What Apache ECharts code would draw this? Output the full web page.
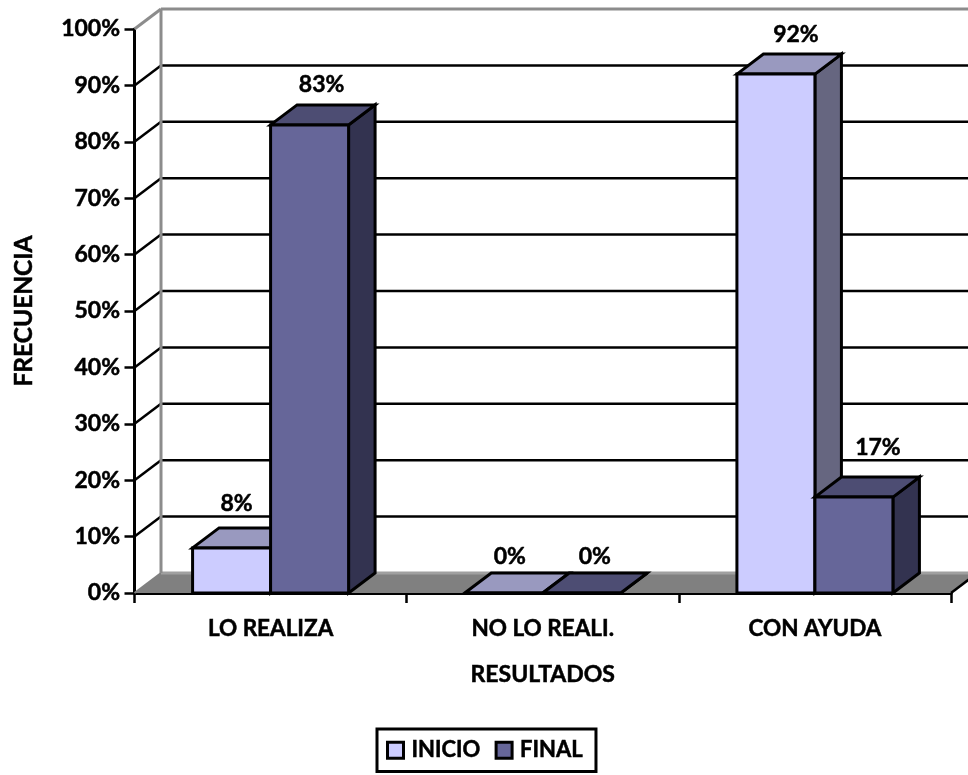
<!DOCTYPE html>
<html>
<head>
<meta charset="utf-8">
<style>html,body{margin:0;padding:0;background:#fff}#chart{width:968px;height:775px}</style>
<script src="https://cdn.jsdelivr.net/npm/echarts@6/dist/echarts.min.js"></script>
</head>
<body>
<div id="chart"></div>
<script>
// Resultados por categoría, en porcentaje
const categories = ['LO REALIZA', 'NO LO REALI.', 'CON AYUDA'];
const inicio = [8, 0, 92];
const final = [83, 0, 17];
const yTicks = [0, 10, 20, 30, 40, 50, 60, 70, 80, 90, 100];

// Desplazamiento de la profundidad oblicua y geometría de las columnas
const DEPTH_X = 26.5, DEPTH_Y = -20, BAR_W = 78;
const FONT = 'Lato';
const faces = {
  inicio: { front: '#CCCCFF', top: '#9999BF', side: '#666680' },
  final: { front: '#666699', top: '#4D4D73', side: '#333350' }
};
// Ajuste fino de cada rótulo respecto a la cara frontal (dx) y a la arista trasera (dy)
const inicioLabelShift = [[5, -24], [6, -16], [20, -20]];
const finalLabelShift = [[12, -20], [13, -16], [24, -30]];
// Trazo fino que refuerza la negrita de todos los textos
const heavyText = { fontFamily: FONT, fontWeight: 'bold', color: '#000', textBorderColor: '#000', textBorderWidth: 0.5 };

function poly(points, fill, lw) {
  return {
    type: 'polygon',
    shape: { points },
    style: { fill, stroke: '#000', lineWidth: lw === undefined ? 3 : lw, lineJoin: 'miter' }
  };
}
function line(x1, y1, x2, y2, stroke, lineWidth) {
  return { type: 'line', shape: { x1, y1, x2, y2 }, style: { stroke, lineWidth } };
}

// Columna oblicua: cara frontal, superior y lateral, con el rótulo encima
function barRenderer(palette, barIndex, shifts) {
  return function (params, api) {
    const i = api.value(0), v = api.value(1);
    const p = api.coord([i, v]), base = api.coord([i, 0]);
    const xL = p[0] + (barIndex - 1) * BAR_W, xR = xL + BAR_W;
    const yT = p[1], yB = base[1];
    const children = [
      poly([[xR, yB], [xR + DEPTH_X, yB + DEPTH_Y], [xR + DEPTH_X, yT + DEPTH_Y], [xR, yT]], palette.side),
      poly([[xL, yT], [xL + DEPTH_X, yT + DEPTH_Y], [xR + DEPTH_X, yT + DEPTH_Y], [xR, yT]], palette.top),
      poly([[xL, yT], [xR, yT], [xR, yB], [xL, yB]], palette.front),
      {
        type: 'text',
        z2: 50,
        style: {
          x: (xL + xR) / 2 + shifts[i][0],
          y: yT + DEPTH_Y + shifts[i][1],
          text: v + '%',
          align: 'center',
          verticalAlign: 'middle',
          fill: '#000',
          stroke: '#000',
          lineWidth: 0.5,
          font: 'bold 23px ' + FONT
        }
      }
    ];
    return { type: 'group', children };
  };
}

// Suelo y paredes del fondo, con una línea de rejilla por marca del eje
function wallRenderer(params, api) {
  const t = api.value(1);
  const cs = params.coordSys;
  const left = cs.x, right = cs.x + cs.width;
  const y = api.coord([0, t])[1];
  const children = [];
  if (t === 0) {
    children.push({
      type: 'polygon',
      shape: { points: [[left, y], [left + DEPTH_X, y + DEPTH_Y], [right + DEPTH_X, y + DEPTH_Y], [right, y]] },
      style: { fill: '#808080', stroke: null }
    });
    children.push(line(left, y, left + DEPTH_X, y + DEPTH_Y, '#808080', 2));
    children.push(line(left + DEPTH_X, y + DEPTH_Y, right + DEPTH_X, y + DEPTH_Y, '#A0A0A0', 3));
    children.push(line(right, y, right + DEPTH_X, y + DEPTH_Y, '#000', 2.5));
  } else if (t === yTicks[yTicks.length - 1]) {
    const yTop = y + DEPTH_Y, yFloor = api.coord([0, 0])[1] + DEPTH_Y;
    children.push(line(left + DEPTH_X, yFloor, left + DEPTH_X, yTop, '#8C8C8C', 3));
    children.push(line(left, y, left + DEPTH_X, yTop, '#8C8C8C', 3));
    children.push(line(left + DEPTH_X, yTop, right + DEPTH_X, yTop, '#8C8C8C', 3));
  } else {
    children.push(line(left, y, left + DEPTH_X, y + DEPTH_Y, '#000', 2.5));
    children.push(line(left + DEPTH_X, y + DEPTH_Y, right + DEPTH_X, y + DEPTH_Y, '#000', 2.5));
  }
  return { type: 'group', children };
}

const chart = echarts.init(document.getElementById('chart'), null, { renderer: 'canvas' });
chart.setOption({
  animation: false,
  backgroundColor: '#fff',
  textStyle: { fontFamily: FONT },
  grid: { left: 134.5, right: 17, top: 29, bottom: 182, containLabel: false, outerBoundsMode: 'none' },
  legend: {
    left: 377,
    top: 729,
    data: ['INICIO', 'FINAL'],
    orient: 'horizontal',
    icon: 'rect',
    itemWidth: 16,
    itemHeight: 16,
    itemGap: 14,
    padding: [10, 13, 10, 9],
    borderColor: '#000',
    borderWidth: 3,
    backgroundColor: '#fff',
    itemStyle: { borderColor: '#000', borderWidth: 3 },
    textStyle: { ...heavyText, fontSize: 22, padding: [0, 0, 0, 3] }
  },
  xAxis: {
    type: 'category',
    data: categories,
    name: 'RESULTADOS',
    nameLocation: 'middle',
    nameGap: 70,
    nameTextStyle: { ...heavyText, fontSize: 23 },
    axisLine: { show: true, lineStyle: { color: '#000', width: 3 } },
    axisTick: { show: true, length: 10, alignWithLabel: false, lineStyle: { color: '#000', width: 2.5 } },
    axisLabel: { ...heavyText, margin: 24, fontSize: 22.5 },
    splitLine: { show: false }
  },
  yAxis: {
    type: 'value',
    min: 0,
    max: 100,
    interval: 10,
    name: 'FRECUENCIA',
    nameLocation: 'middle',
    nameGap: 98,
    nameRotate: 90,
    nameTextStyle: { ...heavyText, fontSize: 24.5 },
    axisLine: { show: true, lineStyle: { color: '#000', width: 3 } },
    axisTick: { show: true, length: 10, lineStyle: { color: '#000', width: 2.5 } },
    axisLabel: { ...heavyText, margin: 14.5, formatter: '{value}%', fontSize: 23 },
    splitLine: { show: false }
  },
  series: [
    {
      name: 'walls',
      type: 'custom',
      z: 1,
      silent: true,
      renderItem: wallRenderer,
      encode: { x: 0, y: 1 },
      data: yTicks.map(t => [0, t])
    },
    {
      name: 'INICIO',
      type: 'custom',
      z: 3,
      itemStyle: { color: faces.inicio.front },
      renderItem: barRenderer(faces.inicio, 0, inicioLabelShift),
      encode: { x: 0, y: 1 },
      data: categories.map((c, i) => [i, inicio[i]])
    },
    {
      name: 'FINAL',
      type: 'custom',
      z: 4,
      itemStyle: { color: faces.final.front },
      renderItem: barRenderer(faces.final, 1, finalLabelShift),
      encode: { x: 0, y: 1 },
      data: categories.map((c, i) => [i, final[i]])
    }
  ]
});
</script>
</body>
</html>
